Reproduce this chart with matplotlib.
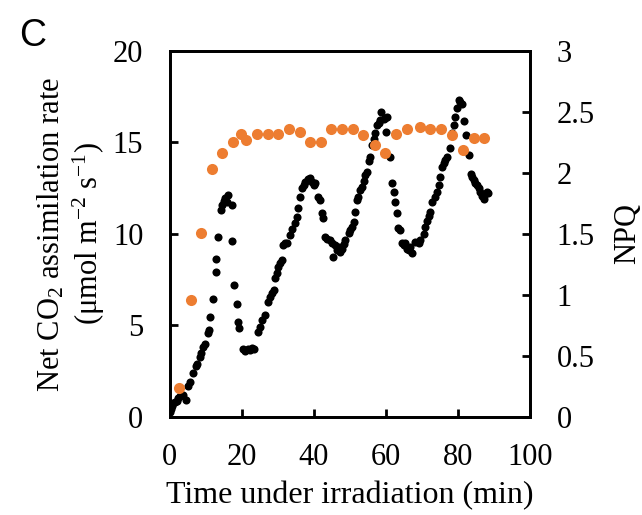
import numpy as np
import matplotlib
matplotlib.use("Agg")
import matplotlib.pyplot as plt

# Net CO2 assimilation (black, left axis)
a_time = [0.0, 0.3, 0.6, 1.0, 1.5, 1.9, 2.4, 2.9, 3.8, 4.5, 5.2, 5.6, 6.6, 7.2, 7.6,
          8.4, 8.8, 9.3, 9.7, 10.5, 10.8, 11.2, 11.9, 12.8, 12.9, 13.5, 14.2, 14.4,
          15.0, 15.3, 15.8, 16.3, 17.2, 17.2, 17.9, 18.6, 19.0, 19.2, 20.4, 21.0,
          21.6, 22.2, 22.8, 23.5, 24.6, 25.0, 25.6, 26.4, 27.3, 27.8, 28.3, 28.8,
          29.3, 29.7, 30.1, 30.6, 31.1, 31.5, 32.0, 32.5, 33.4, 34.0, 34.6, 35.2,
          35.7, 36.2, 36.7, 37.2, 37.5, 38.3, 38.9, 39.4, 39.9, 40.3, 41.2, 41.7,
          42.2, 42.6, 43.1, 43.6, 44.5, 45.0, 45.4, 45.9, 46.3, 46.8, 47.3, 47.8,
          48.3, 48.7, 49.6, 50.1, 50.5, 51.0, 51.5, 51.9, 52.3, 52.8, 53.3, 53.8,
          54.2, 54.7, 55.2, 55.6, 56.1, 56.6, 57.0, 57.5, 57.9, 58.4, 58.6, 59.3,
          59.8, 60.2, 60.0, 61.0, 61.6, 62.1, 62.5, 63.0, 63.4, 63.9, 64.4, 65.0,
          65.3, 65.8, 66.2, 66.7, 67.2, 68.1, 69.0, 69.5, 70.4, 70.9, 71.3, 71.8,
          72.2, 72.7, 73.6, 74.1, 74.6, 75.0, 75.5, 75.9, 76.4, 76.9, 77.6, 78.3,
          78.7, 79.2, 79.7, 80.1, 80.6, 81.0, 81.5, 82.0, 82.9, 83.5, 83.8, 84.3,
          84.7, 85.2, 85.6, 86.1, 86.6, 87.0, 87.5, 88.0, 88.2]
a_rate = [0.29, 0.45, 0.6, 0.75, 0.84, 0.9, 1.05, 1.15, 1.2, 0.93, 1.7, 1.93, 2.4, 2.79, 2.9,
          3.3, 3.5, 3.84, 4.0, 4.6, 4.75, 5.45, 6.45, 7.9, 8.65, 9.82, 11.3, 11.58,
          11.8, 11.95, 11.77, 12.13, 11.58, 9.63, 7.21, 6.16, 5.2, 4.86, 3.7, 3.6,
          3.72, 3.65, 3.75, 3.7, 4.66, 4.9, 5.3, 5.6, 6.3, 6.57, 6.76, 6.94,
          7.6, 7.85, 8.21, 8.4, 8.6, 9.4, 9.5, 9.5, 9.95, 10.3, 10.62, 10.95,
          11.4, 12.0, 12.5, 12.7, 12.86, 13.0, 13.04, 12.86, 12.68, 12.8, 12.04, 11.86,
          11.13, 10.86, 9.85, 9.75, 9.67, 9.5, 8.76, 9.4, 9.1, 9.31, 9.03, 9.2,
          9.45, 9.67, 10.04, 10.2, 10.4, 10.67, 11.2, 11.86, 12.0, 12.4, 12.59, 12.9,
          13.22, 13.4, 14.0, 14.22, 14.86, 15.2, 15.5, 15.96, 16.05, 16.23, 16.68, 16.3,
          16.32, 16.4, 15.59, 14.19, 12.77, 12.31, 11.77, 11.13, 10.31, 10.2, 9.5, 9.4,
          9.49, 9.2, 9.13, 9.31, 8.95, 9.58, 9.5, 9.67, 10.0, 10.4, 10.7, 11.0,
          11.2, 11.77, 12.04, 12.3, 12.68, 13.13, 13.68, 13.86, 14.04, 14.2, 14.68, 15.5,
          15.96, 16.41, 16.9, 17.3, 17.2, 17.1, 16.2, 15.41, 14.32, 13.3, 13.13, 12.95,
          12.77, 12.68, 12.5, 12.3, 12.1, 11.9, 12.2, 12.31, 12.26]

# NPQ (orange, right axis)
npq_time = [2.6, 5.8, 8.6, 11.7, 14.6, 17.5, 19.8, 21.2, 24.2, 27.2, 30.1, 33.0,
            36.1, 39.0, 41.9, 44.6, 47.8, 50.7, 53.7, 56.8, 59.8, 62.8, 65.7,
            69.3, 72.2, 75.2, 78.2, 81.2, 84.3, 87.0]
npq = [0.24, 0.96, 1.51, 2.03, 2.16, 2.25, 2.32, 2.27, 2.32, 2.32, 2.32, 2.36,
       2.34, 2.25, 2.25, 2.36, 2.36, 2.36, 2.31, 2.23, 2.16, 2.32, 2.36,
       2.38, 2.36, 2.36, 2.31, 2.19, 2.29, 2.29]

plt.rcParams['font.family'] = ['Liberation Serif', 'DejaVu Serif']
plt.rcParams['mathtext.fontset'] = 'custom'
plt.rcParams['mathtext.rm'] = 'Liberation Serif'
plt.rcParams['mathtext.it'] = 'Liberation Serif:italic'

fig = plt.figure(figsize=(6.42, 5.15), dpi=100)
ax = fig.add_axes([0.2643, 0.1903, 0.5620, 0.7107])
ax2 = ax.twinx()

ax.scatter(a_time, a_rate, s=34, color='black', zorder=3, linewidths=0)
ax2.scatter(npq_time, npq, s=64, color='#ed7d31', zorder=2, linewidths=0)

ax.set_xlim(0, 100)
ax.set_ylim(0, 20)
ax2.set_ylim(0, 3)
ax.set_xticks([0, 20, 40, 60, 80, 100])
ax.set_yticks([0, 5, 10, 15, 20])
ax2.set_yticks([0, 0.5, 1, 1.5, 2, 2.5, 3])
ax2.set_yticklabels(['0', '0.5', '1', '1.5', '2', '2.5', '3'])

for a in (ax, ax2):
    for sp in a.spines.values():
        sp.set_linewidth(2)
    a.tick_params(direction='in', length=6, width=2, labelsize=22, pad=19)

ax.set_xlabel('Time under irradiation (min)', fontsize=23, labelpad=6)
ax.set_ylabel('Net CO$_2$ assimilation rate\n(\u03bcmol m$^{-2}$ s$^{-1}$)',
              fontsize=22, labelpad=4, linespacing=1.15)
ax2.set_ylabel('NPQ', fontsize=22, labelpad=13)

fig.text(0.03, 0.965, 'C', fontsize=27, family='Liberation Sans', va='top', ha='left')

fig.savefig('out.png', dpi=100)
